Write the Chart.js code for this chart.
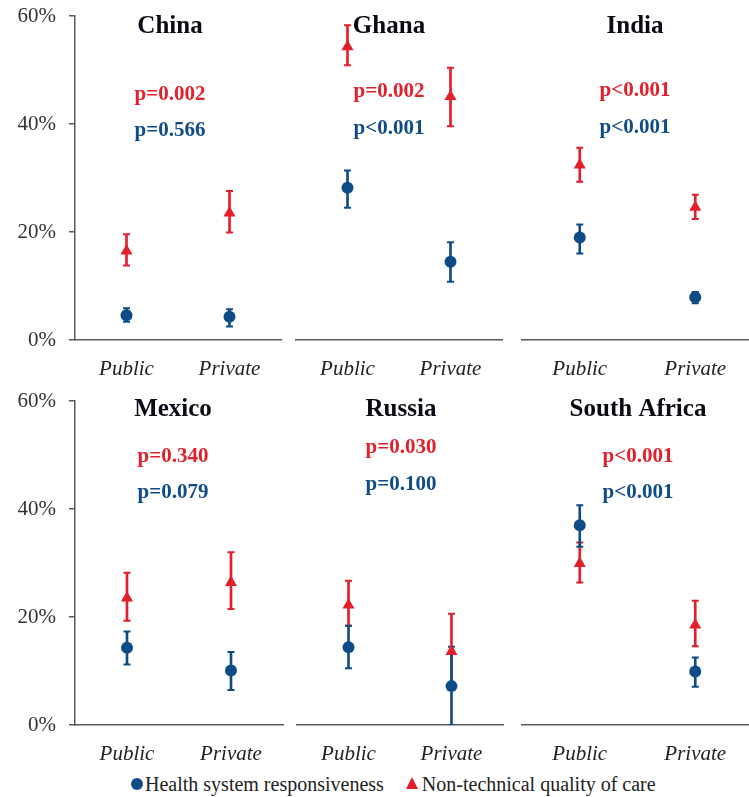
<!DOCTYPE html>
<html>
<head>
<meta charset="utf-8">
<script src="https://cdn.jsdelivr.net/npm/chart.js@4.4.0/dist/chart.umd.min.js"></script>
<style>
  html, body { margin: 0; padding: 0; background: #fff; overflow: hidden; }
  #wrap { position: relative; width: 749px; height: 797px; overflow: hidden; }
  #wrap canvas { position: absolute; }
  #legend { position: absolute; left: 131px; top: 771px; height: 26px; display: flex; align-items: center;
    font: 20px "Liberation Serif", "Times New Roman", serif; color: #222; white-space: nowrap; }
  .dot { width: 12px; height: 12px; border-radius: 50%; background: #0f4c87; margin-right: 2px; }
  .tri { width: 0; height: 0; border-left: 6px solid transparent; border-right: 6px solid transparent;
    border-bottom: 12px solid #e2202b; margin: 0 4px 2px 22px; }
</style>
</head>
<body>
<div id="wrap">
  <div id="legend">
    <span class="dot"></span><span>Health system responsiveness</span>
    <span class="tri"></span><span>Non-technical quality of care</span>
  </div>
</div>
<script>
// values (percent)
const countries = ['China', 'Ghana', 'India', 'Mexico', 'Russia', 'South Africa'];
const sectors = ['Public', 'Private'];
const yTicks = [0, 20, 40, 60];

const hsrValue = [[4.6, 4.3], [28.2, 14.5], [19.0, 7.9], [14.3, 10.1], [14.4, 7.2], [37.0, 9.9]];
const hsrLow   = [[3.4, 2.5], [24.5, 10.8], [16.0, 6.8], [11.2, 6.5], [10.5, 0.0], [33.0, 7.1]];
const hsrHigh  = [[5.9, 5.7], [31.4, 18.1], [21.4, 8.9], [17.3, 13.5], [18.4, 14.5], [40.7, 12.5]];

const ntqValue = [[16.5, 23.5], [54.3, 45.1], [32.4, 24.6], [23.5, 26.4], [22.2, 13.6], [29.9, 18.5]];
const ntqLow   = [[13.8, 19.9], [50.9, 39.6], [29.3, 22.4], [19.3, 21.5], [18.4, 6.6], [26.4, 14.6]];
const ntqHigh  = [[19.6, 27.6], [58.3, 50.4], [35.6, 26.9], [28.2, 32.0], [26.7, 20.6], [33.8, 23.0]];

const pNtq = ['p=0.002', 'p=0.002', 'p<0.001', 'p=0.340', 'p=0.030', 'p<0.001'];
const pHsr = ['p=0.566', 'p<0.001', 'p<0.001', 'p=0.079', 'p=0.100', 'p<0.001'];

const blue = '#0f4c87';
const red = '#e2202b';
const axisColor = '#555a62';
const serif = '"Liberation Serif", "Times New Roman", serif';

// canvas placement of each panel and where its labels sit (page px)
const panels = [
  { left: 0,   top: 0,   width: 290, padL: 0, padR: 9, yAxis: true,  tx: 170, titleY: 27,  redY: 95,  blueY: 131 },
  { left: 289, top: 0,   width: 220, padL: 0, padR: 2, yAxis: false, tx: 389, titleY: 27,  redY: 92,  blueY: 129 },
  { left: 515, top: 0,   width: 245, padL: 5, padR: 3, yAxis: false, tx: 635, titleY: 27,  redY: 91,  blueY: 128 },
  { left: 0,   top: 385, width: 290, padL: 0, padR: 2, yAxis: true,  tx: 173, titleY: 410, redY: 457, blueY: 493 },
  { left: 290, top: 385, width: 220, padL: 3, padR: 5, yAxis: false, tx: 401, titleY: 410, redY: 448, blueY: 485 },
  { left: 515, top: 385, width: 245, padL: 4, padR: 3, yAxis: false, tx: 638, titleY: 410, redY: 457, blueY: 493 }
];

const panelText = {
  id: 'panelText',
  afterDraw(chart, args, opts) {
    const ctx = chart.ctx;
    ctx.save();
    ctx.textAlign = 'center';
    ctx.textBaseline = 'middle';
    ctx.fillStyle = '#0a0a14';
    ctx.font = 'bold 25px ' + serif;
    ctx.fillText(opts.title, opts.x, opts.titleY);
    ctx.font = 'bold 21px ' + serif;
    ctx.fillStyle = red;
    ctx.fillText(opts.pRed, opts.x, opts.redY);
    ctx.fillStyle = blue;
    ctx.fillText(opts.pBlue, opts.x, opts.blueY);
    ctx.restore();
  }
};

function ranges(lo, hi) {
  return lo.map((v, j) => [v, hi[j]]);
}

function capSet(data, color, order) {
  return { type: 'line', data, order, showLine: false, pointStyle: 'line', pointRadius: 3.5,
    pointBorderColor: color, pointBorderWidth: 2, pointHoverRadius: 3.5 };
}

const wrap = document.getElementById('wrap');

panels.forEach((p, i) => {
  const canvas = document.createElement('canvas');
  canvas.width = p.width;
  canvas.height = 385;
  canvas.style.left = p.left + 'px';
  canvas.style.top = p.top + 'px';
  wrap.appendChild(canvas);

  const yScale = {
    min: 0, max: 60,
    display: p.yAxis,
    afterBuildTicks: a => { a.ticks = yTicks.map(v => ({ value: v })); },
    grid: { drawOnChartArea: false, tickLength: 6, color: axisColor, lineWidth: 1.5 },
    border: { display: true, color: axisColor, width: 1.5 },
    ticks: { padding: 13, color: '#333', font: { family: serif, size: 21 }, callback: v => v + '%' }
  };
  if (p.yAxis) {
    yScale.afterFit = a => { a.width = 75; a.paddingTop = 10; a.paddingBottom = 10; };
  }

  new Chart(canvas, {
    data: {
      labels: sectors,
      datasets: [
        { type: 'line', label: 'Non-technical quality of care', data: ntqValue[i], order: 1, showLine: false,
          pointStyle: 'triangle', pointRadius: 7, pointHoverRadius: 7, pointBackgroundColor: red, pointBorderWidth: 0 },
        { type: 'line', label: 'Health system responsiveness', data: hsrValue[i], order: 2, showLine: false,
          pointStyle: 'circle', pointRadius: 6, pointHoverRadius: 6, pointBackgroundColor: blue, pointBorderWidth: 0 },
        { type: 'bar', data: ranges(hsrLow[i], hsrHigh[i]), order: 3, grouped: false, barThickness: 2,
          backgroundColor: blue, borderWidth: 0 },
        capSet(hsrLow[i], blue, 3),
        capSet(hsrHigh[i], blue, 3),
        { type: 'bar', data: ranges(ntqLow[i], ntqHigh[i]), order: 4, grouped: false, barThickness: 2,
          backgroundColor: red, borderWidth: 0 },
        capSet(ntqLow[i], red, 4),
        capSet(ntqHigh[i], red, 4)
      ]
    },
    options: {
      responsive: false,
      animation: false,
      events: [],
      layout: { padding: { top: 16, left: p.padL, right: p.padR, bottom: 0 } },
      plugins: {
        legend: { display: false },
        tooltip: { enabled: false },
        panelText: {
          title: countries[i], pRed: pNtq[i], pBlue: pHsr[i],
          x: p.tx - p.left, titleY: p.titleY - p.top, redY: p.redY - p.top, blueY: p.blueY - p.top
        }
      },
      scales: {
        x: {
          type: 'category', offset: true,
          grid: { display: false, drawTicks: false, tickLength: 0 },
          border: { display: true, color: axisColor, width: 1.5 },
          ticks: { padding: 17, color: '#222', font: { family: serif, size: 21, style: 'italic' } },
          afterFit: a => { a.height = 45; }
        },
        y: yScale
      }
    },
    plugins: [panelText]
  });
});
</script>
</body>
</html>
